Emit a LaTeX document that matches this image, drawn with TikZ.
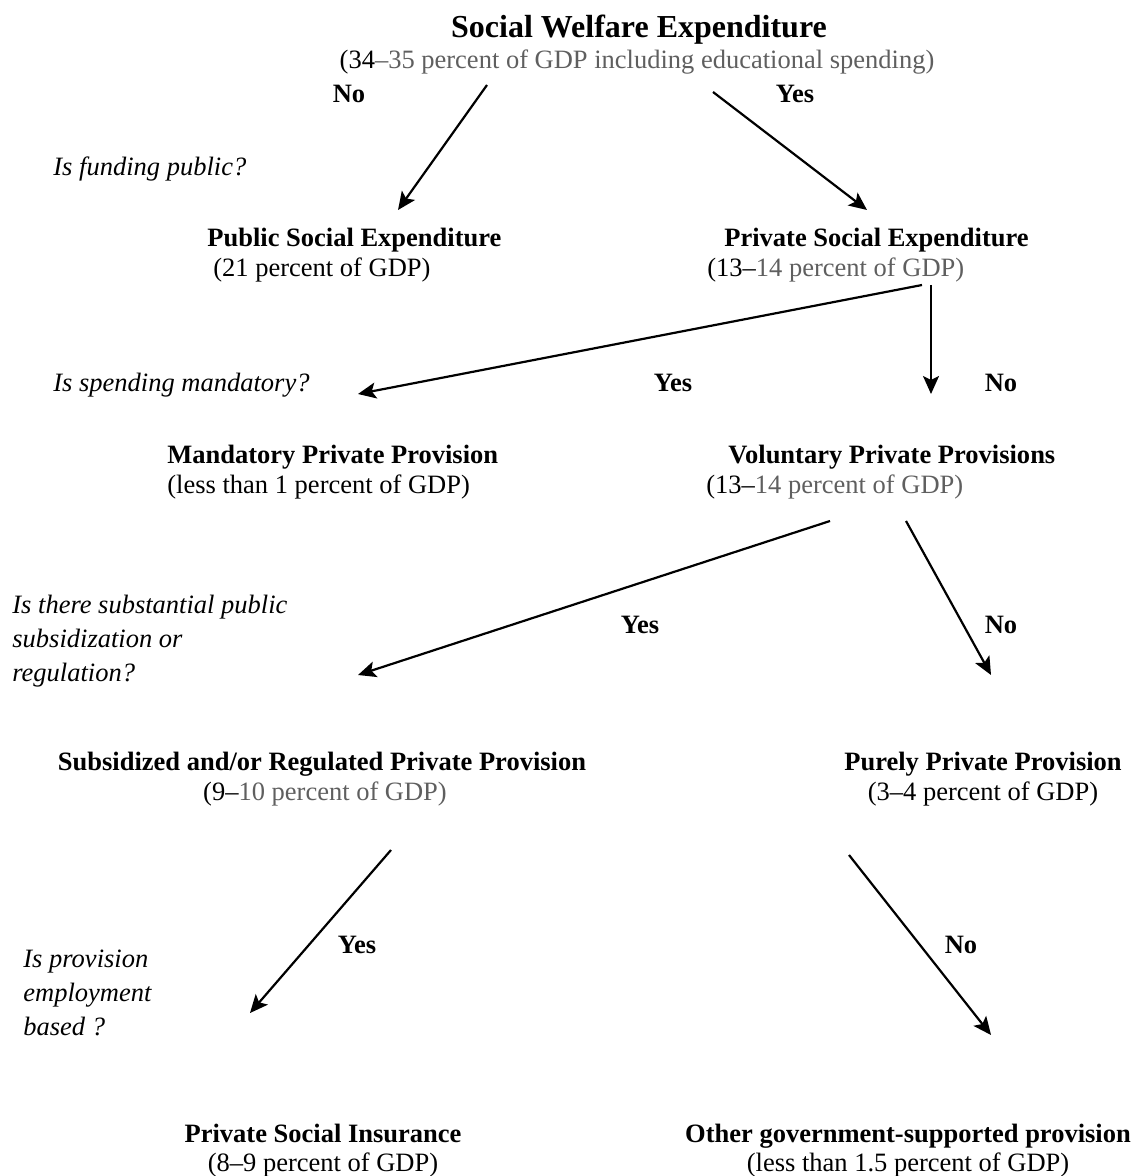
\documentclass[tikz,border=0pt]{standalone}
\usepackage{fontspec}
\setmainfont{Liberation Serif}
\usetikzlibrary{arrows.meta,positioning}
\definecolor{softgray}{HTML}{5F5F5F}
\tikzset{
  head/.style={font=\fontsize{13.25}{15}\selectfont\bfseries, inner sep=0pt},
  sub/.style={font=\fontsize{13.25}{15}\selectfont, inner sep=0pt},
  ask/.style={font=\fontsize{13.25}{17}\selectfont\itshape, inner sep=0pt, align=left, anchor=north west},
  ans/.style={font=\fontsize{13.25}{15}\selectfont\bfseries, inner sep=0pt, anchor=base},
  flow/.style={-{Stealth[length=9pt,width=8pt,inset=2pt]}, line width=1.1pt}
}
\newcommand{\grey}[1]{\textcolor{softgray}{#1}}
\begin{document}
\begin{tikzpicture}[x=0.5pt,y=-0.5pt]
\useasboundingbox (0,0) rectangle (1135,1176);

% заголовок
\node[head, font=\fontsize{16}{18}\selectfont\bfseries, anchor=base] (swe) at (639,38) {Social Welfare Expenditure};
\node[sub, anchor=base] (swesub) at (637,69) {(34\grey{--35 percent of GDP including educational spending)}};

% узлы
\node[head, anchor=base west] (pub) at (207,247) {Public Social Expenditure};
\node[sub, anchor=base west] (pubsub) at ([shift={(6,30)}]pub.base west) {(21 percent of GDP)};
\node[head, anchor=base west] (priv) at (724,247) {Private Social Expenditure};
\node[sub, anchor=base west] (privsub) at ([shift={(-17,30)}]priv.base west) {(13--\grey{14 percent of GDP)}};

\node[head, anchor=base west] (mand) at (167,463) {Mandatory Private Provision};
\node[sub, anchor=base west] (mandsub) at ([shift={(0,30)}]mand.base west) {(less than 1 percent of GDP)};
\node[head, anchor=base west] (vol) at (728,463) {Voluntary Private Provisions};
\node[sub, anchor=base west] (volsub) at ([shift={(-22,30)}]vol.base west) {(13--\grey{14 percent of GDP)}};

\node[head, anchor=base] (subs) at (322,770) {Subsidized and/or Regulated Private Provision};
\node[sub, anchor=base] (subssub) at ([shift={(3,30)}]subs.base) {(9--\grey{10 percent of GDP)}};
\node[head, anchor=base] (pure) at (983,770) {Purely Private Provision};
\node[sub, anchor=base] (puresub) at ([shift={(0,30)}]pure.base) {(3--4 percent of GDP)};

\node[head, anchor=base] (ins) at (323,1142) {Private Social Insurance};
\node[sub, anchor=base] (inssub) at ([shift={(0,29)}]ins.base) {(8--9 percent of GDP)};
\node[head, anchor=base] (other) at (908,1142) {Other government-supported provision};
\node[sub, anchor=base] (othersub) at ([shift={(0,29)}]other.base) {(less than 1.5 percent of GDP)};

% вопросы
\node[ask] (q1) at (53,156) {Is funding public?};
\node[ask] (q2) at (53,373) {Is spending mandatory?};
\node[ask] (q3) at (12,595) {Is there substantial public\\subsidization or\\regulation?};
\node[ask] (q4) at (23,950) {Is provision\\employment\\based ?};

% ответы
\node[ans] (no1) at (349,103) {No};
\node[ans] (yes1) at (795,103) {Yes};
\node[ans] (yes2) at (673,391) {Yes};
\node[ans] (no2) at (1001,391) {No};
\node[ans] (yes3) at (640,633) {Yes};
\node[ans] (no3) at (1001,633) {No};
\node[ans] (yes4) at (357,953) {Yes};
\node[ans] (no4) at (961,953) {No};

% концы стрелок
\coordinate (swe-l) at (487,85);
\coordinate (swe-r) at (713,92);
\coordinate (pub-in) at (398,210);
\coordinate (priv-in) at (867,210);
\coordinate (priv-l) at (922,285);
\coordinate (priv-d) at (931,285);
\coordinate (mand-in) at (358,394);
\coordinate (vol-in) at (931,394);
\coordinate (vol-l) at (830,521);
\coordinate (vol-r) at (906,521);
\coordinate (subs-in) at (358,675);
\coordinate (pure-in) at (991,675);
\coordinate (subs-out) at (391,850);
\coordinate (pure-out) at (849,855);
\coordinate (ins-in) at (250,1013);
\coordinate (other-in) at (991,1035);

% стрелки
\draw[flow] (swe-l) -- (pub-in);
\draw[flow] (swe-r) -- (priv-in);
\draw[flow] (priv-l) -- (mand-in);
\draw[flow] (priv-d) -- (vol-in);
\draw[flow] (vol-l) -- (subs-in);
\draw[flow] (vol-r) -- (pure-in);
\draw[flow] (subs-out) -- (ins-in);
\draw[flow] (pure-out) -- (other-in);

\end{tikzpicture}
\end{document}
